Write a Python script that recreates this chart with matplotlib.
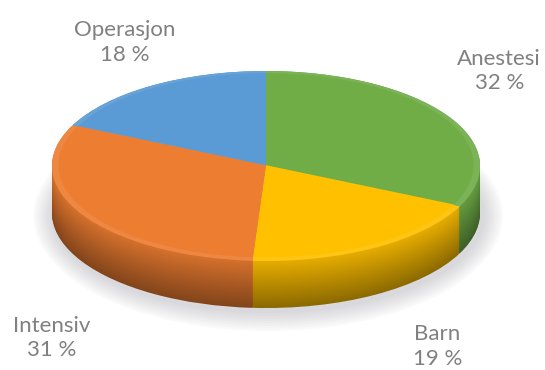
import matplotlib
matplotlib.use("Agg")
import matplotlib.pyplot as plt
from matplotlib.patches import Ellipse
from matplotlib.colors import to_rgb

categories = ['Anestesi', 'Barn', 'Intensiv', 'Operasjon']
shares = [32, 19, 31, 18]
colors = ['#70AD47', '#FFC000', '#ED7D31', '#5B9BD5']

# label block centres (x, y in axis data units), laid out like the original
label_pos = [(1.09, 1.0), (0.80, -1.90), (-1.0, -1.81), (-0.66, 1.30)]

thickness = 0.495
layers = 45


def shade(c, k):
    r, g, b = to_rgb(c)
    return (r * k, g * k, b * k)


def tint(c, t):
    r, g, b = to_rgb(c)
    return (r + (1 - r) * t, g + (1 - g) * t, b + (1 - b) * t)


fig = plt.figure(figsize=(5.45, 3.7), dpi=100)
ax = fig.add_axes([0, 0, 1, 1])

# soft shadow under the disc
for i in range(8):
    grow = 0.012 * (8 - i)
    ax.add_patch(Ellipse((0.01, -thickness - 0.03), 2 * (1 + grow), 2 * (1 + grow * 2.2),
                         color='#9a9aa6', alpha=0.05, lw=0, zorder=0))

# the side of the disc: stacked darker copies of the pie
for i in range(layers + 1):
    f = i / layers  # 0 at bottom, 1 at top
    k = 0.55 + 0.35 * f
    ax.pie(shares, colors=[shade(c, k) for c in colors], startangle=90,
           counterclock=False, center=(0, -thickness * (1 - f)), radius=1,
           wedgeprops=dict(linewidth=0))

# top face with a faint bevel highlight at the rim
ax.pie(shares, colors=[tint(c, 0.08) for c in colors], startangle=90,
       counterclock=False, center=(0, 0), radius=1, wedgeprops=dict(linewidth=0))
ax.pie(shares, colors=colors, startangle=90, counterclock=False,
       center=(0, 0.008), radius=0.97, wedgeprops=dict(linewidth=0))

for name, val, (x, y) in zip(categories, shares, label_pos):
    ax.text(x, y, f'{name}\n{val} %', ha='center', va='center', fontsize=16,
            color='#808080', family='Lato', linespacing=1.3)

ax.set_aspect('auto')
ax.set_xlim(-266 / 214, 279 / 214)
ax.set_ylim(-204 / 95, 166 / 95)
ax.axis('off')

fig.savefig('out.png', dpi=100)
